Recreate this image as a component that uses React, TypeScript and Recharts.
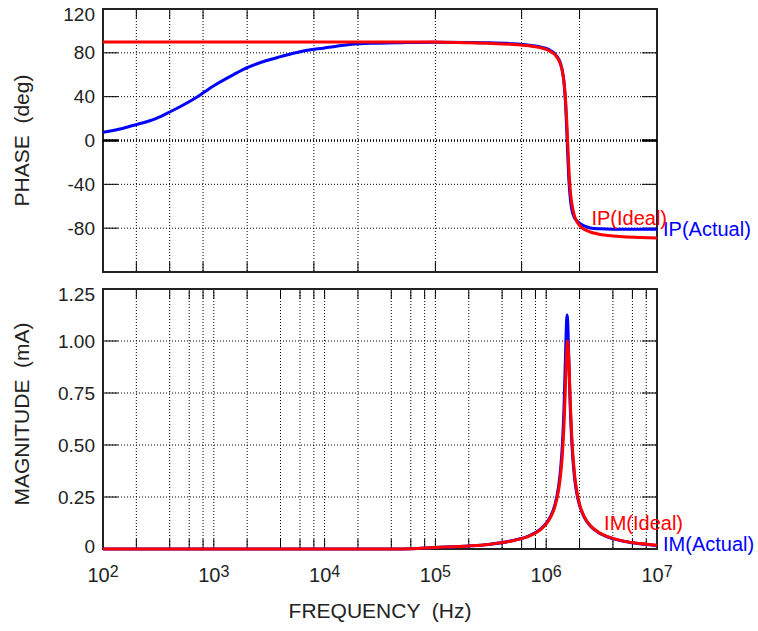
import React from "react";
import {
  LineChart,
  Line,
  XAxis,
  YAxis,
  CartesianGrid,
  ReferenceArea,
  ReferenceLine,
  LabelList,
} from "recharts";

// frequency points (Hz)
const freq = [
  100, 150, 200, 300, 400, 500, 700, 1000, 1500, 2000, 3000, 4000, 6000, 1e4,
  1.5e4, 2e4, 3e4, 5e4, 1e5, 2e5, 3e5, 5e5, 7e5, 8e5, 9e5, 1e6, 1.1e6, 1.2e6,
  1.3e6, 1.35e6, 1.4e6, 1.45e6, 1.5e6, 1.53e6, 1.545e6, 1.56e6, 1.6e6, 1.65e6,
  1.7e6, 1.8e6, 1.9e6, 2e6, 2.2e6, 2.5e6, 3e6, 4e6, 5e6, 7e6, 1e7,
];

// phase (deg)
const phaseIdeal = [
  90, 90, 90, 90, 90, 90, 90, 90, 90, 90, 90, 90, 90, 90, 90, 90, 90, 90, 90,
  89.2, 88.7, 87.7, 86.4, 85.6, 84.5, 83.1, 81.1, 78.2, 73.1, 69.1, 63.0, 52.9,
  35.0, 19.3, 9.9, 0, -24.5, -45.4, -57.1, -68.8, -74.4, -77.5, -81.0, -83.5,
  -85.5, -87.1, -87.8, -88.5, -89.0,
];
const phaseActual = [
  7.5, 11, 14.5, 20, 26, 31, 39.5, 50, 60, 66.5, 73, 76.5, 81, 84.5, 87, 88.2,
  88.8, 89.3, 89.7, 89.5, 89.2, 88.3, 87, 86.2, 85.2, 84, 81.9, 79.0, 74.1, 69.9,
  63.4, 52.1, 30.8, 11.1, 0, -11.0, -35.3, -53.1, -62.7, -70.5, -73.5, -75.5,
  -78, -79.8, -80.6, -81, -81, -81, -81,
];

// magnitude (mA)
const magIdeal = [
  0, 0, 0, 0, 0, 0, 0, 0, 0, 0, 0, 0, 0, 0, 0, 0, 0, 0, 0.007, 0.0145, 0.022,
  0.04, 0.062, 0.077, 0.096, 0.12, 0.154, 0.205, 0.29, 0.357, 0.454, 0.604,
  0.819, 0.944, 0.985, 1.0, 0.91, 0.702, 0.543, 0.361, 0.27, 0.216, 0.157,
  0.113, 0.079, 0.051, 0.038, 0.026, 0.018,
];
const magActual = [
  0, 0, 0, 0, 0, 0, 0, 0, 0, 0, 0, 0, 0, 0, 0, 0, 0, 0, 0.007, 0.0145, 0.022,
  0.041, 0.063, 0.079, 0.098, 0.124, 0.159, 0.214, 0.309, 0.388, 0.503, 0.692,
  0.967, 1.104, 1.125, 1.104, 0.918, 0.676, 0.517, 0.345, 0.26, 0.21, 0.153,
  0.111, 0.077, 0.05, 0.037, 0.025, 0.017,
];

const gridTicks = [
  100, 200, 400, 600, 800, 1e3, 2e3, 4e3, 6e3, 8e3, 1e4, 2e4, 4e4, 6e4, 8e4,
  1e5, 2e5, 4e5, 6e5, 8e5, 1e6, 2e6, 4e6, 6e6, 8e6, 1e7,
];
const decadeTicks = [100, 1e3, 1e4, 1e5, 1e6, 1e7];
const phaseTicks = [-120, -80, -40, 0, 40, 80, 120];
const phaseTickLabels = ["-120", "-80", "-40", "0", "40", "80", "120"];
const magTicks = [0, 0.25, 0.5, 0.75, 1, 1.25];
const magTickLabels = ["0", "0.25", "0.50", "0.75", "1.00", "1.25"];

const data = freq.map((f, i) => ({
  f,
  pi: phaseIdeal[i],
  pa: phaseActual[i],
  mi: magIdeal[i],
  ma: magActual[i],
}));

const FONT = "'Liberation Sans', Arial, sans-serif";
const INK = "#222";
const RED = "#ff0000";
const BLUE = "#0000ff";

const hLine = (p: any, w: number) => (
  <g key={`h-${p.index ?? p.y1}`}>
    <line x1={p.x1} x2={p.x2} y1={p.y1} y2={p.y1} stroke="#000" strokeWidth={w} strokeDasharray="1 2" />
    <line x1={p.x1} x2={p.x1 + 15} y1={p.y1} y2={p.y1} stroke="#000" strokeWidth={w} />
    <line x1={p.x2 - 15} x2={p.x2} y1={p.y1} y2={p.y1} stroke="#000" strokeWidth={w} />
  </g>
);

const vGrid = (p: any) => (
  <g key={`v-${p.index}`}>
    <line x1={p.x1} x2={p.x1} y1={p.y1} y2={p.y2} stroke="#000" strokeWidth={1} strokeDasharray="1 2" />
    <line x1={p.x1} x2={p.x1} y1={p.y1} y2={p.y1 + 10} stroke="#000" strokeWidth={1} />
    <line x1={p.x1} x2={p.x1} y1={p.y2 - 10} y2={p.y2} stroke="#000" strokeWidth={1} />
  </g>
);

function FreqTick({ x, y, payload }: any) {
  if (!decadeTicks.includes(payload.value)) return null;
  const exp = Math.round(Math.log10(payload.value));
  return (
    <text x={x} y={y + 33} textAnchor="middle" fill={INK} fontFamily={FONT}>
      <tspan fontSize={20}>10</tspan>
      <tspan fontSize={16} dy={-5.5}>{exp}</tspan>
    </text>
  );
}

// edge labels sit a little inside the box, like the original
const yTick = (ticks: number[], labels: string[]) => ({ x, y, payload }: any) => {
  const i = ticks.indexOf(payload.value);
  const nudge = i === ticks.length - 1 ? 5 : i === 0 ? -3 : 0;
  return (
    <text x={x} y={y + nudge} textAnchor="end" dominantBaseline="central" fontSize={19} fill={INK} fontFamily={FONT}>
      {labels[i]}
    </text>
  );
};

const sideTitle = (text: string, shift: number) => (p: any) => {
  const vb = p.viewBox;
  const cx = vb.x + 21;
  const cy = vb.y + vb.height / 2 + shift;
  return (
    <text
      x={cx}
      y={cy}
      transform={`rotate(-90 ${cx} ${cy})`}
      textAnchor="middle"
      dominantBaseline="central"
      fontSize={21}
      fill={INK}
      fontFamily={FONT}
      style={{ whiteSpace: "pre" }}
    >
      {text}
    </text>
  );
};

const bottomTitle = (p: any) => {
  const vb = p.viewBox;
  return (
    <text
      x={vb.x + vb.width / 2}
      y={vb.y + 61}
      textAnchor="middle"
      dominantBaseline="central"
      fontSize={21}
      fill={INK}
      fontFamily={FONT}
      style={{ whiteSpace: "pre" }}
    >
      FREQUENCY  (Hz)
    </text>
  );
};

const endTag = (text: string, color: string, anchor: string, dx: number, dy: number) => (p: any) => {
  if (p.index !== freq.length - 1) return null;
  const x = p.x ?? p.viewBox?.x;
  const y = p.y ?? p.viewBox?.y;
  return (
    <text
      key="tag"
      x={x + dx}
      y={y + dy}
      fill={color}
      textAnchor={anchor as any}
      dominantBaseline="central"
      fontSize={20}
      fontFamily={FONT}
    >
      {text}
    </text>
  );
};

export default function App() {
  return (
    <div style={{ position: "absolute", left: 0, top: 0, width: 758, height: 631, background: "#fff" }}>
      <div style={{ position: "absolute", left: 0, top: 0 }}>
        <LineChart width={758} height={280} data={data} margin={{ top: 9, right: 101, bottom: 8, left: 0 }}>
          <CartesianGrid horizontal={(p: any) => hLine(p, 1)} vertical={vGrid} />
          <XAxis dataKey="f" type="number" scale="log" domain={[100, 1e7]} ticks={gridTicks} hide />
          <YAxis
            type="number"
            domain={[-120, 120]}
            ticks={phaseTicks}
            width={103}
            axisLine={false}
            tickLine={false}
            tickSize={0}
            tickMargin={8}
            tick={yTick(phaseTicks, phaseTickLabels)}
            label={{ content: sideTitle("PHASE  (deg)", 0) }}
          />
          <ReferenceLine y={0} shape={(p: any) => hLine(p, 2.5)} />
          <ReferenceArea x1={100} x2={1e7} y1={-120} y2={120} fill="none" stroke="#222" strokeWidth={2} />
          <Line dataKey="pa" type="monotone" stroke={BLUE} strokeWidth={3} dot={false} isAnimationActive={false}>
            <LabelList dataKey="pa" content={endTag("IP(Actual)", BLUE, "start", 6, 0)} />
          </Line>
          <Line dataKey="pi" type="monotone" stroke={RED} strokeWidth={3} dot={false} isAnimationActive={false}>
            <LabelList dataKey="pi" content={endTag("IP(Ideal)", RED, "end", 10, -20.5)} />
          </Line>
        </LineChart>
      </div>
      <div style={{ position: "absolute", left: 0, top: 280 }}>
        <LineChart width={758} height={351} data={data} margin={{ top: 9, right: 101, bottom: 0, left: 0 }}>
          <CartesianGrid horizontal={(p: any) => hLine(p, 1)} vertical={vGrid} />
          <XAxis
            dataKey="f"
            type="number"
            scale="log"
            domain={[100, 1e7]}
            ticks={gridTicks}
            height={82}
            axisLine={false}
            tickLine={false}
            tickSize={0}
            tickMargin={0}
            interval={0}
            tick={<FreqTick />}
            label={{ content: bottomTitle }}
          />
          <YAxis
            type="number"
            domain={[0, 1.25]}
            ticks={magTicks}
            width={103}
            axisLine={false}
            tickLine={false}
            tickSize={0}
            tickMargin={8}
            tick={yTick(magTicks, magTickLabels)}
            label={{ content: sideTitle("MAGNITUDE  (mA)", -5) }}
          />
          <ReferenceArea x1={100} x2={1e7} y1={0} y2={1.25} fill="none" stroke="#222" strokeWidth={2} />
          <Line dataKey="ma" type="monotone" stroke={BLUE} strokeWidth={3} dot={false} isAnimationActive={false}>
            <LabelList dataKey="ma" content={endTag("IM(Actual)", BLUE, "start", 6, -1.5)} />
          </Line>
          <Line dataKey="mi" type="monotone" stroke={RED} strokeWidth={3} dot={false} isAnimationActive={false}>
            <LabelList dataKey="mi" content={endTag("IM(Ideal)", RED, "end", 26, -22)} />
          </Line>
        </LineChart>
      </div>
    </div>
  );
}
